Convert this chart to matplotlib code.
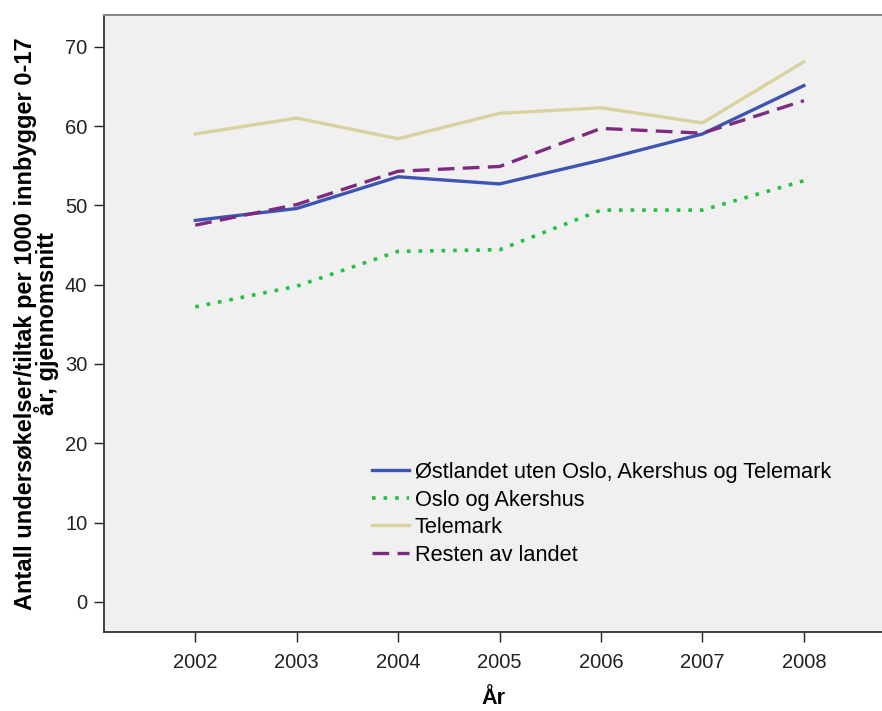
import matplotlib
matplotlib.use("Agg")
import matplotlib.pyplot as plt

plt.rcParams['font.family'] = ['Liberation Sans', 'DejaVu Sans']

years = [2002, 2003, 2004, 2005, 2006, 2007, 2008]
ostlandet = [48.1, 49.6, 53.6, 52.7, 55.7, 59.0, 65.1]
oslo_akershus = [37.2, 39.8, 44.2, 44.4, 49.4, 49.4, 53.1]
telemark = [59.0, 61.0, 58.4, 61.6, 62.3, 60.4, 68.1]
resten = [47.5, 50.1, 54.3, 54.9, 59.7, 59.1, 63.2]

labels = ['Østlandet uten Oslo, Akershus og Telemark', 'Oslo og Akershus',
          'Telemark', 'Resten av landet']

fig = plt.figure(figsize=(8.82, 7.11), dpi=100)
ax = fig.add_axes([104/882, 79/711, 1 - 104/882, 617/711])
ax.set_facecolor('#f0f0f0')

ax.plot(years, ostlandet, color='#3d55b0', lw=2.4, label=labels[0])
ax.plot(years, oslo_akershus, color='#22c040', lw=2.6, linestyle=(0, (1, 2.2)),
        label=labels[1])
ax.plot(years, telemark, color='#d9d29e', lw=2.4, label=labels[2])
ax.plot(years, resten, color='#7e2a80', lw=2.4, linestyle=(0, (5, 2.5)),
        label=labels[3])

ax.set_xlim(2001.10, 2008.77)
ax.set_ylim(-3.8, 74.0)
ax.set_xticks(years)
ax.set_yticks(range(0, 71, 10))
ax.tick_params(direction='out', length=7, width=1, labelsize=14.5,
               colors='#222222', pad=5)
ax.tick_params(axis='x', pad=8)

ax.spines['right'].set_visible(False)
ax.spines['top'].set_color('#888888')
ax.spines['top'].set_linewidth(1.5)
for s in ['left', 'bottom']:
    ax.spines[s].set_color('#222222')
    ax.spines[s].set_linewidth(1.2)

ax.set_xlabel('År', fontsize=15.5, fontweight='bold', labelpad=12)
ax.set_ylabel('Antall undersøkelser/tiltak per 1000 innbygger 0-17\når, gjennomsnitt',
              fontsize=17, fontweight='bold', labelpad=4, linespacing=0.85)

ax.legend(loc='upper left', bbox_to_anchor=(372/882, 1 - 462/711),
          bbox_transform=fig.transFigure, frameon=False,
          fontsize=15.7, handlelength=1.7, handletextpad=0.25, labelspacing=0.3,
          borderaxespad=0, borderpad=0)

fig.savefig('out.png', dpi=100)
